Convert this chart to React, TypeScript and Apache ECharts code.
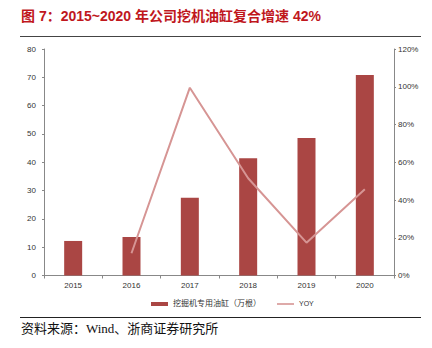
import React, { useEffect, useRef } from "react";
import * as echarts from "echarts";

const years = ["2015", "2016", "2017", "2018", "2019", "2020"];
const cylinders = [12.2, 13.6, 27.5, 41.4, 48.6, 70.8];
const yoy = [null, 11.8, 99.5, 51.5, 17.4, 45.7];
const titleText = "图 7：2015~2020 年公司挖机油缸复合增速 42%";
const sourceText = "资料来源：Wind、浙商证券研究所";
const barName = "挖掘机专用油缸（万根）";
const lineName = "YOY";

export default function App() {
  const ref = useRef<HTMLDivElement>(null);
  useEffect(() => {
    document.body.style.margin = "0";
    if (!ref.current) return;
    const chart = echarts.init(ref.current, null, { renderer: "svg" });
    const axisLabel = { color: "#333", fontSize: 8, fontFamily: "Liberation Sans, Arial" };
    chart.setOption({
      animation: false,
      backgroundColor: "#fff",
      graphic: [
        {
          type: "text",
          left: 21,
          top: 9,
          style: {
            text: titleText,
            fill: "#C0171D",
            font: "bold 14px 'Liberation Sans', 'Noto Sans CJK SC', sans-serif",
          },
        },
        {
          type: "line",
          shape: { x1: 20, y1: 36.5, x2: 421, y2: 36.5 },
          style: { stroke: "#444", lineWidth: 1 },
        },
        {
          type: "line",
          shape: { x1: 20, y1: 317.5, x2: 421, y2: 317.5 },
          style: { stroke: "#222", lineWidth: 1 },
        },
        {
          type: "text",
          left: 21,
          top: 322,
          style: {
            text: sourceText,
            fill: "#111",
            font: "13px 'Liberation Serif', 'Noto Sans CJK SC', serif",
          },
        },
      ],
      legend: {
        top: 295,
        left: 146,
        itemGap: 16,
        itemWidth: 17,
        itemHeight: 4,
        textStyle: { fontSize: 8, color: "#333", fontFamily: "Liberation Serif, Noto Sans CJK SC" },
        data: [
          { name: barName, icon: "rect" },
          {
            name: lineName,
            icon: "path://M0,1.2H17V2.8H0Z",
            itemStyle: { color: "#D69594" },
            textStyle: { fontFamily: "Liberation Sans, Arial", fontSize: 7 },
          },
        ],
      },
      grid: { left: 44, right: 38, top: 49, bottom: 72.5 },
      xAxis: {
        type: "category",
        data: years,
        axisLine: { lineStyle: { color: "#888" } },
        axisTick: { show: true, length: 3, lineStyle: { color: "#888" } },
        axisLabel: { ...axisLabel, margin: 6 },
      },
      yAxis: [
        {
          type: "value",
          min: 0,
          max: 80,
          interval: 10,
          splitLine: { show: false },
          axisLine: { show: true, lineStyle: { color: "#888" } },
          axisTick: { show: true, length: 2, lineStyle: { color: "#888" } },
          axisLabel: { ...axisLabel, margin: 8 },
        },
        {
          type: "value",
          min: 0,
          max: 120,
          interval: 20,
          splitLine: { show: false },
          axisLine: { show: true, lineStyle: { color: "#888" } },
          axisTick: { show: true, length: 2, lineStyle: { color: "#888" } },
          axisLabel: { ...axisLabel, margin: 4, formatter: "{value}%" },
        },
      ],
      series: [
        {
          name: barName,
          type: "bar",
          data: cylinders,
          barWidth: 18,
          itemStyle: { color: "#AA4644" },
        },
        {
          name: lineName,
          type: "line",
          yAxisIndex: 1,
          data: yoy,
          symbol: "none",
          lineStyle: { color: "#D69594", width: 2 },
          itemStyle: { color: "#D69594" },
        },
      ],
    });
    return () => chart.dispose();
  }, []);
  return <div ref={ref} style={{ width: 432, height: 348 }} />;
}
